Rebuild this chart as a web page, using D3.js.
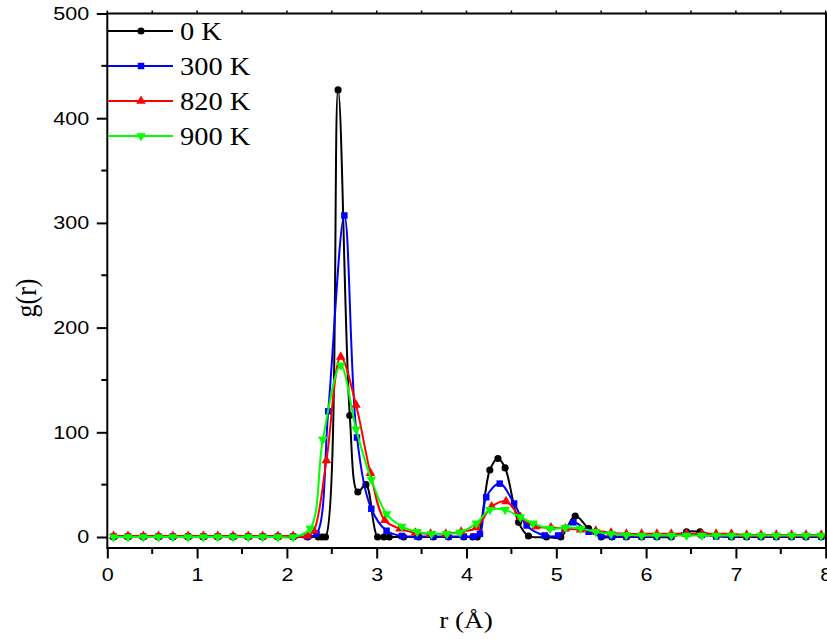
<!DOCTYPE html>
<html>
<head>
<meta charset="utf-8">
<script src="https://cdn.jsdelivr.net/npm/d3@7/dist/d3.min.js"></script>
<style>
  body { margin: 0; background: #fff; }
  svg { display: block; }
</style>
</head>
<body>
<svg id="chart" width="827" height="639"></svg>
<script>
// Radial distribution function g(r) at four temperatures
const seriesNames = ["0 K", "300 K", "820 K", "900 K"];

const r0K = [0.07,0.23,0.40,0.57,0.73,0.90,1.07,1.23,1.40,1.57,1.73,1.90,2.07,2.23,2.35,2.39,2.43,
             2.57,2.70,2.79,2.88,3.01,3.08,3.14,3.30,3.47,3.63,3.80,3.97,4.07,4.12,4.26,4.35,4.43,4.58,4.69,
             4.89,5.05,5.21,5.36,5.50,5.62,5.78,5.95,6.12,6.28,6.45,6.60,6.78,6.95,7.12,7.28,7.45,7.62,7.78,7.95];
const g0K = [0,0,0,0,0,0,0,0,0,0,0,0,0,0,0,0,0,
             427,116,43,50,0,0,0,0,0,0,0,0,0,0,64,75,66,14,1,
             0,0,20,8,0,0,0,0,0,0,5,5,1,0,0,0,0,0,0,0];

const r300K = [0.07,0.23,0.40,0.57,0.73,0.90,1.07,1.23,1.40,1.57,1.73,1.90,2.07,2.23,2.33,2.46,2.64,
               2.78,2.94,3.11,3.28,3.45,3.63,3.80,3.97,4.08,4.15,4.22,4.37,4.53,4.67,4.87,5.02,5.19,5.36,
               5.50,5.62,5.78,5.95,6.12,6.28,6.45,6.62,6.78,6.95,7.12,7.28,7.45,7.62,7.78,7.95];
const g300K = [0.5,0.5,0.5,0.5,0.5,0.5,0.5,0.5,0.5,0.5,0.5,0.5,0.5,0.5,3,120,307,
               95,27,6,1,0.5,0.5,0.5,0.5,0.5,3,38,51,32,11,1.5,1.5,14,5,
               1,0.5,0.5,0.5,0.5,1,3,2,0.5,0.5,0.5,0.5,0.5,0.5,0.5,0.5];

const r820K = [0.07,0.23,0.40,0.57,0.73,0.90,1.07,1.23,1.40,1.57,1.73,1.90,2.07,2.23,2.30,2.44,2.60,
               2.77,2.93,3.09,3.26,3.43,3.60,3.77,3.94,4.11,4.28,4.44,4.60,4.77,4.94,5.10,5.27,5.44,
               5.61,5.78,5.95,6.12,6.28,6.45,6.62,6.78,6.95,7.12,7.28,7.45,7.62,7.78,7.95];
const g820K = [1,1,1,1,1,1,1,1,1,1,1,1,1,1,6,73,172,
               126,61,16,8,4,3,3,5,9,29,34,19,10,9,8,7,6,
               4,3,3,3,3,3,3,3,3,2,2,2,2,2,2];

const r900K = [0.07,0.23,0.40,0.57,0.73,0.90,1.07,1.23,1.40,1.57,1.73,1.90,2.07,2.26,2.40,2.60,
               2.77,2.94,3.11,3.28,3.45,3.61,3.78,3.93,4.11,4.26,4.43,4.60,4.74,4.93,5.10,5.27,5.44,
               5.61,5.78,5.95,6.12,6.28,6.45,6.62,6.78,6.95,7.12,7.28,7.45,7.62,7.78,7.95];
const g900K = [0,0,0,0,0,0,0,0,0,0,0,0,0,8,93,164,
               103,55,22,10,5,3,3,4.5,13,26,26,19,13,8,9,8,5,
               3,2,1.5,1.5,1.5,1.5,1.5,1.5,1.5,1.5,1.5,1.5,1.5,1.5,1.5];

const xTicks = [0, 1, 2, 3, 4, 5, 6, 7, 8];
const yTicks = [0, 100, 200, 300, 400, 500];
const xMinorTicks = [0.5, 1.5, 2.5, 3.5, 4.5, 5.5, 6.5, 7.5];
const yMinorTicks = [50, 150, 250, 350, 450];
const xLabel = "r (Å)";
const yLabel = "g(r)";

(function draw() {
  const seriesData = [
    { name: seriesNames[0], r: r0K,   g: g0K,   color: "#000000", symbol: "circle" },
    { name: seriesNames[1], r: r300K, g: g300K, color: "#0000ff", symbol: "square" },
    { name: seriesNames[2], r: r820K, g: g820K, color: "#ff0000", symbol: "up" },
    { name: seriesNames[3], r: r900K, g: g900K, color: "#00ff00", symbol: "down" }
  ];

  const svg = d3.select("#chart");
  const W = 827, H = 639;
  const pLeft = 107.3, pRight = 826, pTop = 13.5, pBottom = 548;
  const stretch = 1.16;   // text is set slightly wide

  const x = d3.scaleLinear().domain([0, 8]).range([pLeft, 825.7]);
  const y = d3.scaleLinear().domain([-10.5, 500]).range([pBottom, pTop]);

  svg.append("rect").attr("width", W).attr("height", H).attr("fill", "#fff");

  svg.append("clipPath").attr("id", "plotClip")
    .append("rect").attr("x", pLeft - 6).attr("y", pTop).attr("width", pRight - pLeft + 12).attr("height", pBottom - pTop);

  const plot = svg.append("g").attr("clip-path", "url(#plotClip)");

  function symbolPath(kind) {
    if (kind === "circle") return d3.symbol().type(d3.symbolCircle).size(40)();
    if (kind === "square") return d3.symbol().type(d3.symbolSquare).size(42)();
    return d3.symbol().type(d3.symbolTriangle).size(40)();
  }

  const line = d3.line()
    .x(d => x(d[0]))
    .y(d => y(d[1]))
    .curve(d3.curveCatmullRom.alpha(0.5));

  seriesData.forEach(s => {
    const pts = s.r.map((rv, i) => [rv, s.g[i]]);
    plot.append("path")
      .datum(pts)
      .attr("d", line)
      .attr("fill", "none")
      .attr("stroke", s.color)
      .attr("stroke-width", 2)
      .attr("stroke-linejoin", "round");
    const sp = symbolPath(s.symbol);
    plot.selectAll(null).data(pts).enter().append("path")
      .attr("d", sp)
      .attr("fill", s.color)
      .attr("transform", d => `translate(${x(d[0])},${y(d[1])})` + (s.symbol === "down" ? " rotate(180)" : ""));
  });

  const axisColor = "#000";
  const fontTick = "'Liberation Sans', Arial, sans-serif";
  const fontSerif = "'Liberation Serif', 'Times New Roman', serif";

  const xAxis = d3.axisBottom(x).tickValues(xTicks).tickSize(10.5).tickPadding(9.5).tickFormat(d3.format("d"));
  const gx = svg.append("g").attr("transform", `translate(0,${pBottom})`).call(xAxis);
  const yAxis = d3.axisLeft(y).tickValues(yTicks).tickSize(10.5).tickPadding(7.5).tickFormat(d3.format("d"));
  const gy = svg.append("g").attr("transform", `translate(${pLeft},0)`).call(yAxis);

  [gx, gy].forEach(g => {
    g.select(".domain").remove();
    g.selectAll("line").attr("stroke", axisColor).attr("stroke-width", 2);
    g.selectAll("text").attr("fill", "#000").style("font-family", fontTick).style("font-size", "18.6px");
  });
  gx.selectAll("text").attr("transform", `scale(${stretch},1)`);
  gy.selectAll("text").attr("x", -18 / stretch).attr("transform", `scale(${stretch},1)`);

  // minor ticks
  svg.append("g").selectAll("line").data(xMinorTicks).enter().append("line")
    .attr("x1", d => x(d)).attr("x2", d => x(d)).attr("y1", pBottom).attr("y2", pBottom + 6)
    .attr("stroke", axisColor).attr("stroke-width", 2);
  svg.append("g").selectAll("line").data(yMinorTicks).enter().append("line")
    .attr("y1", d => y(d)).attr("y2", d => y(d)).attr("x1", pLeft).attr("x2", pLeft - 6)
    .attr("stroke", axisColor).attr("stroke-width", 2);
  // short ticks on the top edge
  svg.append("g").selectAll("line").data(xTicks.concat(xMinorTicks)).enter().append("line")
    .attr("x1", d => x(d)).attr("x2", d => x(d)).attr("y1", pTop).attr("y2", pTop - 3)
    .attr("stroke", axisColor).attr("stroke-width", 1.5);

  // frame
  svg.append("rect")
    .attr("x", pLeft).attr("y", pTop).attr("width", pRight - pLeft).attr("height", pBottom - pTop)
    .attr("fill", "none").attr("stroke", axisColor).attr("stroke-width", 2);

  // axis titles
  svg.append("text").attr("transform", `translate(466,628) scale(${stretch},1)`).attr("text-anchor", "middle")
    .style("font-family", fontSerif).style("font-size", "23.5px").text(xLabel);
  svg.append("text").attr("transform", `translate(36,298) scale(${stretch},1) rotate(-90)`).attr("text-anchor", "middle")
    .style("font-family", fontSerif).style("font-size", "26px").text(yLabel);

  // legend
  const legend = svg.append("g");
  seriesData.forEach((s, i) => {
    const ly = 31 + i * 35;
    legend.append("line").attr("x1", 108).attr("x2", 173).attr("y1", ly).attr("y2", ly)
      .attr("stroke", s.color).attr("stroke-width", 2);
    legend.append("path").attr("d", symbolPath(s.symbol)).attr("fill", s.color)
      .attr("transform", `translate(141,${ly})` + (s.symbol === "down" ? " rotate(180)" : ""));
    legend.append("text").attr("transform", `translate(180,${ly + 9}) scale(${stretch},1)`)
      .style("font-family", fontSerif).style("font-size", "24.5px").attr("fill", "#000").text(s.name);
  });
})();
</script>
</body>
</html>
